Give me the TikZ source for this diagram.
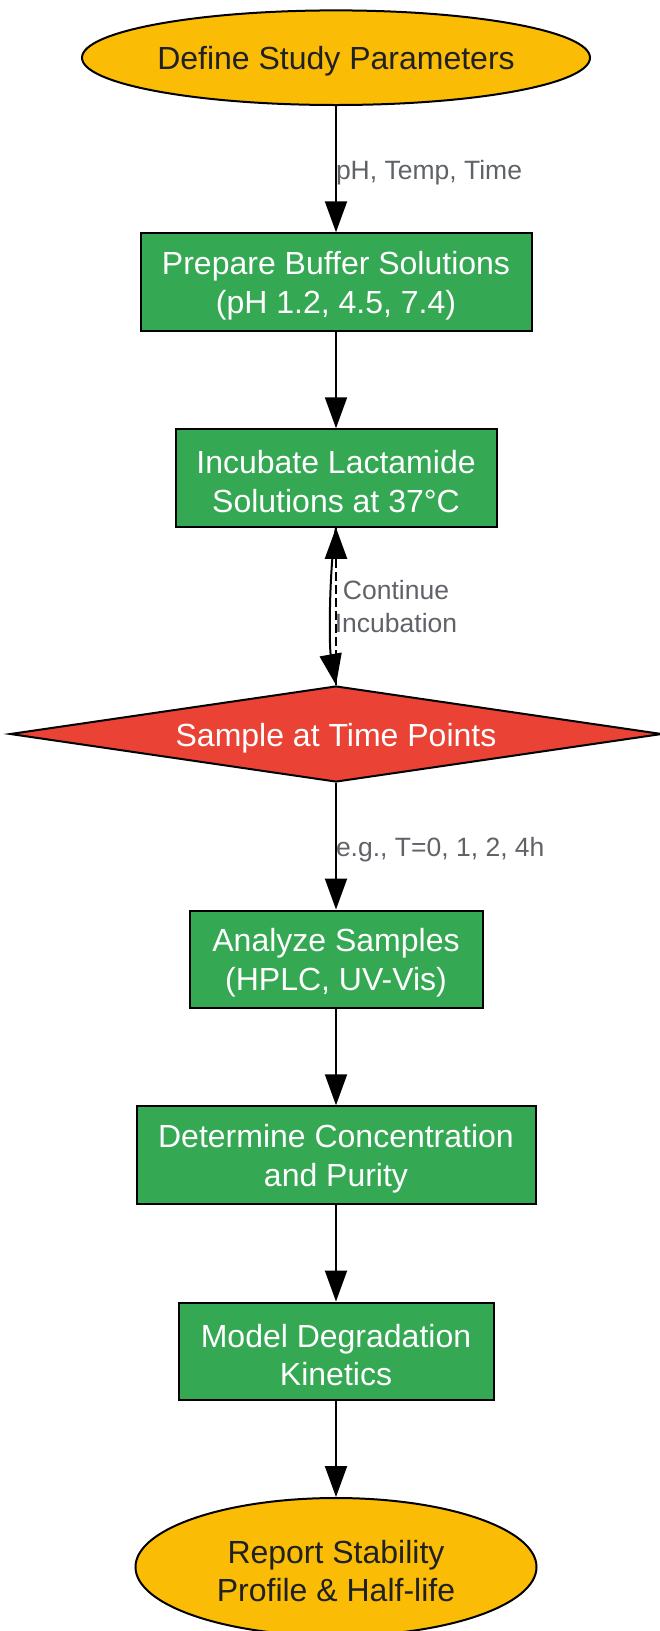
\documentclass[tikz,border=0pt]{standalone}
\usepackage{fontspec}
\setmainfont{Liberation Sans}
\usetikzlibrary{arrows.meta,shapes.geometric}
\definecolor{gyellow}{HTML}{FBBC05}
\definecolor{ggreen}{HTML}{34A853}
\definecolor{gred}{HTML}{EA4335}
\definecolor{gtext}{HTML}{202124}
\definecolor{glabel}{HTML}{5F6368}
\tikzset{
  base/.style={draw=black, line width=2pt, inner sep=0pt},
  ntext/.style={align=center, inner sep=0pt, yshift=-3.8pt,
    font=\fontsize{32}{38.5}\selectfont},
  term/.style={base, ellipse, fill=gyellow,
    label={[ntext, text=gtext]center:#1}},
  procbox/.style={base, rectangle, fill=ggreen,
    label={[ntext, text=white]center:#1}},
  decide/.style={base, diamond, fill=gred, aspect=6.8,
    label={[ntext, text=white]center:#1}},
  arr/.style={line width=2pt, -{Triangle[length=31pt,width=22pt]}},
  elabel/.style={text=glabel, font=\fontsize{26.5}{32.2}\selectfont, inner sep=0pt, align=center}
}
\begin{document}
\begin{tikzpicture}[x=1pt,y=-1pt]
\useasboundingbox (0,0) rectangle (659,1631);
\node[term={Define Study Parameters}, minimum width=508pt, minimum height=94.6pt] (def) at (336,57.7) {};
\node[procbox={Prepare Buffer Solutions\\(pH 1.2, 4.5, 7.4)}, minimum width=391pt, minimum height=97.5pt] (prep) at (336,282) {};
\node[procbox={Incubate Lactamide\\Solutions at 37°C}, minimum width=321pt, minimum height=97.5pt] (inc) at (336,478) {};
\node[decide={Sample at Time Points}, minimum width=652pt, minimum height=96pt] (samp) at (336,734) {};
\node[procbox={Analyze Samples\\(HPLC, UV-Vis)}, minimum width=293pt, minimum height=97pt] (ana) at (336,959) {};
\node[procbox={Determine Concentration\\and Purity}, minimum width=399pt, minimum height=97.5pt] (det) at (336,1155) {};
\node[procbox={Model Degradation\\Kinetics}, minimum width=315pt, minimum height=97pt] (mod) at (336,1351) {};
\node[term={Report Stability\\Profile \& Half-life}, minimum width=401pt, minimum height=138pt] (rep) at (336,1567) {};

\draw[arr] (def) -- node[elabel, anchor=west, pos=0.5, xshift=-1pt, yshift=-4pt] (l1) {pH, Temp, Time} (prep);
\draw[arr] (prep) -- (inc);
\draw[arr] (inc.south) .. controls +(-7,40) and +(-7,-40) .. (samp.north);
\draw[arr, dashed, dash pattern=on 9pt off 4pt] (samp.north) -- (inc.south);
\node[elabel] (l2) at (396,606.5) {Continue\\Incubation};
\draw[arr] (samp) -- node[elabel, anchor=west, pos=0.55, xshift=-1pt, yshift=3pt] (l3) {e.g., T=0, 1, 2, 4h} (ana);
\draw[arr] (ana) -- (det);
\draw[arr] (det) -- (mod);
\draw[arr] (mod) -- (rep);
\end{tikzpicture}
\end{document}
